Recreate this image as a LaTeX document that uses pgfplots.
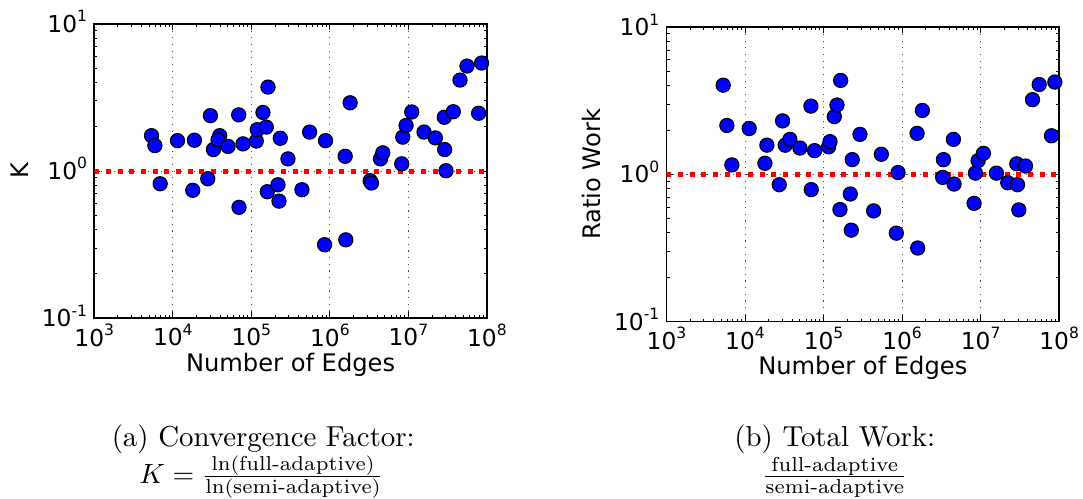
\documentclass[border=0pt]{standalone}
\usepackage{amsmath}
\usepackage{fontspec}
\usepackage{pgfplots}
\usepackage{pgfplotstable}
\pgfplotsset{compat=1.18}
\newfontfamily\dejavu{DejaVu Sans}

% tick label 10^n in sans serif
\newcommand{\pw}[1]{10\raisebox{3.8pt}{\fontsize{5.6}{6}\selectfont #1}}

% convergence factor K
\pgfplotstableread{
edges k
5360 1.74
5910 1.49
6900 0.82
11460 1.61
18840 1.62
17950 0.74
30130 2.38
27860 0.887
32880 1.40
39550 1.74
37670 1.63
50470 1.47
69000 2.41
69660 0.567
78300 1.53
115800 1.60
119200 1.91
140600 2.50
155200 1.99
162900 3.72
159600 0.724
218300 0.807
224900 0.625
233800 1.67
292600 1.21
440700 0.747
552300 1.84
855400 0.316
880500 1.61
1567000 1.26
1596000 0.341
1811000 2.91
3258000 0.860
3388000 0.829
4409000 1.21
4718000 1.33
8228000 1.12
8472000 1.70
9334000 2.04
11020000 2.52
15810000 1.84
22030000 1.68
28650000 2.32
28950000 1.40
30120000 1.005
37300000 2.53
45400000 4.15
55700000 5.17
78400000 2.47
85500000 5.42
}\convdata

% total work ratio
\pgfplotstableread{
edges ratio
5275 4.04
5875 2.15
6804 1.16
11320 2.05
17920 1.19
19000 1.58
27290 0.851
30090 2.31
32550 1.58
37310 1.73
50060 1.51
69070 2.91
69800 0.788
76930 1.45
116000 1.54
120800 1.67
137100 2.47
148300 2.96
161900 0.577
165100 4.35
219400 0.736
225600 0.418
232200 1.26
291000 1.87
434500 0.565
544600 1.37
845300 0.399
888700 1.03
1552000 1.90
1582000 0.316
1813000 2.72
3289000 0.954
3363000 1.26
4595000 0.860
4508000 1.73
8260000 0.636
8590000 1.02
9290000 1.24
10860000 1.39
15890000 1.02
22170000 0.878
28900000 1.18
29500000 0.851
30690000 0.574
37300000 1.14
45800000 3.22
55700000 4.08
80000000 1.83
88200000 4.24
}\workdata

\pgfplotsset{
  kpanel/.style={
    scale only axis,
    width=141.4pt, height=106pt,
    xmin=1e3, xmax=1e8, ymin=0.1, ymax=10,
    xtick={1e3,1e4,1e5,1e6,1e7,1e8},
    xticklabels={\pw{3},\pw{4},\pw{5},\pw{6},\pw{7},\pw{8}},
    ytick={0.1,1,10},
    yticklabels={\pw{-1},\pw{0},\pw{1}},
    xtick pos=both, ytick pos=both,
    grid=major,
    major grid style={black!70, dotted, line width=0.35pt},
    tick label style={font=\dejavu\fontsize{8.4}{9}\selectfont, inner sep=0pt},
    xticklabel style={yshift=-1.9pt},
    yticklabel style={anchor=base east, xshift=-2.4pt, yshift=-3.05pt},
    label style={font=\dejavu\fontsize{8.7}{10}\selectfont, inner sep=0pt},
    xlabel style={at={(rel axis cs:0.5,0)}, anchor=north, yshift=-12.2pt},
    ylabel style={at={(rel axis cs:0,0.5)}, anchor=south, yshift=23.4pt},
    major tick length=2.2pt, minor tick length=1.1pt,
    tick style={black, line width=0.35pt},
    axis line style={line width=0.6pt},
  },
  kdots/.style={only marks, mark=*, mark size=2.55pt,
    mark options={fill=blue, draw=black, line width=0.4pt}},
  kunity/.style={red, line width=1.8pt, dash pattern=on 1.8pt off 2.4pt},
}

\begin{document}
\begin{tikzpicture}
\path[use as bounding box] (0,0) rectangle (390pt,-179.6pt);

\begin{loglogaxis}[kpanel, at={(33.95pt,-114.6pt)}, anchor=south west,
  xlabel={Number of Edges}, ylabel={K}]
  \addplot[kdots] table[x=edges, y=k] {\convdata};
  \addplot[kunity] coordinates {(1e3,1) (1e8,1)};
\end{loglogaxis}

\begin{loglogaxis}[kpanel, at={(240.0pt,-115.8pt)}, anchor=south west,
  xlabel={Number of Edges}, ylabel={Ratio Work}]
  \addplot[kdots] table[x=edges, y=ratio] {\workdata};
  \addplot[kunity] coordinates {(1e3,1) (1e8,1)};
\end{loglogaxis}

\begin{scope}[every node/.style={inner sep=0pt, font=\fontsize{10.4}{12}\selectfont}]
  \node[anchor=base] at (94.8pt,-160.8pt) {(a) Convergence Factor:};
  \node[anchor=base] at (94.2pt,-174.2pt) {$K=\frac{\ln(\text{full-adaptive})}{\ln(\text{semi-adaptive})}$};
  \node[anchor=base] at (300.6pt,-160.8pt) {(b) Total Work:};
  \node[anchor=base] at (300.6pt,-174.2pt) {$\frac{\text{full-adaptive}}{\text{semi-adaptive}}$};
\end{scope}
\end{tikzpicture}
\end{document}
